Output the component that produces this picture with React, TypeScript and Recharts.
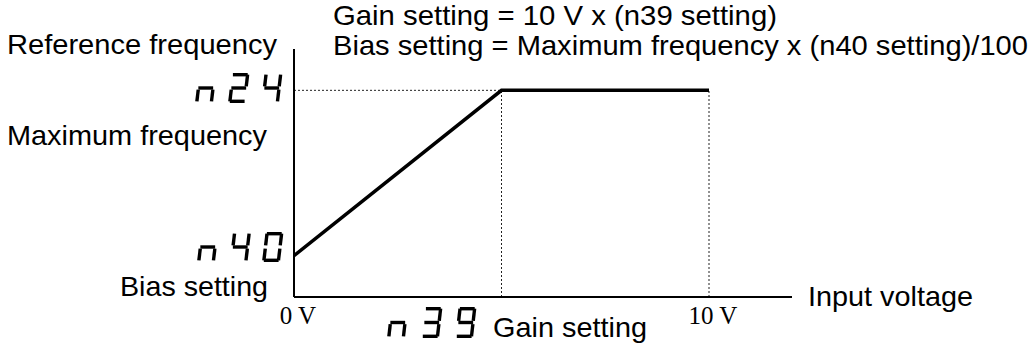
import React from 'react';
import { LineChart, Line, XAxis, YAxis, ReferenceLine, Customized } from 'recharts';

// ---- data ----
const inputVoltage = [0, 5, 10]; // V
const referenceFrequency = [20, 100, 100]; // % of maximum frequency
const xTicks = [0, 10];
const xTickLabels = ['0 V', '10 V'];
const gainVoltage = 5;
const maxFrequency = 100;
const fullScaleVoltage = 10;
const titleLines = [
  'Gain setting = 10 V x (n39 setting)',
  'Bias setting = Maximum frequency x (n40 setting)/100',
];
const yAxisTitle = 'Reference frequency';
const maxLabel = 'Maximum frequency';
const biasLabel = 'Bias setting';
const xAxisTitle = 'Input voltage';
const gainLabel = 'Gain setting';
const paramMax = 'n24';
const paramBias = 'n40';
const paramGain = 'n39';

const data = inputVoltage.map((v, i) => ({ v, f: referenceFrequency[i] }));

const SANS = '"Liberation Sans", Arial, sans-serif';
const SERIF = '"Liberation Serif", "Times New Roman", serif';

const SEGMENTS: Record<string, string> = {
  n: 'ceg',
  '0': 'abcdef',
  '2': 'abged',
  '3': 'abgcd',
  '4': 'fgbc',
  '9': 'abcdfg',
};

function SevenSeg({ x, y, text, pitch = 33, w = 18, h = 30, slant = 3.5, t = 3.4 }: any) {
  const gap = 1.6;
  const lines: any[] = [];
  text.split('').forEach((ch: string, ci: number) => {
    const x0 = x + ci * pitch;
    const P = (u: number, v: number) => [x0 + u + slant * (1 - v / h), y + v];
    const segs: Record<string, [number, number, number, number]> = {
      a: [gap, t / 2, w - gap, t / 2],
      d: [gap, h - t / 2, w - gap, h - t / 2],
      g: [gap, h / 2, w - gap, h / 2],
      f: [t / 2, gap, t / 2, h / 2 - gap],
      e: [t / 2, h / 2 + gap, t / 2, h - gap],
      b: [w - t / 2, gap, w - t / 2, h / 2 - gap],
      c: [w - t / 2, h / 2 + gap, w - t / 2, h - gap],
    };
    (SEGMENTS[ch] || '').split('').forEach((s) => {
      const [u1, v1, u2, v2] = segs[s];
      const [X1, Y1] = P(u1, v1);
      const [X2, Y2] = P(u2, v2);
      lines.push(
        <line key={ci + s} x1={X1} y1={Y1} x2={X2} y2={Y2} stroke="#000" strokeWidth={t} strokeLinecap="butt" />
      );
    });
  });
  return (
    <g aria-label={text}>
      <title>{text}</title>
      {lines}
    </g>
  );
}

const XTick = (props: any) => {
  const { x, payload, index } = props;
  return (
    <text x={x + 4} y={324} textAnchor="middle" fontFamily={SERIF} fontSize={25} fill="#000">
      {xTickLabels[index] ?? String(payload.value)}
    </text>
  );
};

const Labels = () => (
  <g fill="#000" fontFamily={SANS} fontSize={28}>
    <text x={333} y={25} textLength={444} lengthAdjust="spacingAndGlyphs">{titleLines[0]}</text>
    <text x={333} y={55} textLength={695} lengthAdjust="spacingAndGlyphs">{titleLines[1]}</text>
    <text x={7} y={54} textLength={270} lengthAdjust="spacingAndGlyphs">{yAxisTitle}</text>
    <text x={7} y={145} textLength={260} lengthAdjust="spacingAndGlyphs">{maxLabel}</text>
    <text x={120} y={296} textLength={148} lengthAdjust="spacingAndGlyphs">{biasLabel}</text>
    <text x={808} y={306} textLength={165} lengthAdjust="spacingAndGlyphs">{xAxisTitle}</text>
    <text x={493} y={337} textLength={154} lengthAdjust="spacingAndGlyphs">{gainLabel}</text>
    <SevenSeg x={195} y={73} text={paramMax} />
    <SevenSeg x={197} y={232} text={paramBias} pitch={32.5} />
    <SevenSeg x={387} y={307} text={paramGain} pitch={34} h={31} />
  </g>
);

export default function App() {
  return (
    <div style={{ position: 'absolute', left: 0, top: 0, width: 1033, height: 345, background: '#fff' }}>
      <LineChart
        width={1033}
        height={345}
        data={data}
        margin={{ top: 49, right: 241, bottom: 18, left: 264 }}
      >
        <XAxis
          dataKey="v"
          type="number"
          domain={[0, 12]}
          ticks={xTicks}
          interval={0}
          height={30}
          tickSize={0}
          tickLine={false}
          axisLine={{ stroke: '#000', strokeWidth: 2 }}
          tick={<XTick />}
          allowDataOverflow
        />
        <YAxis
          type="number"
          domain={[0, 120]}
          width={30}
          tick={false}
          tickLine={false}
          axisLine={{ stroke: '#000', strokeWidth: 2 }}
          allowDataOverflow
        />
        <ReferenceLine
          segment={[{ x: 0, y: maxFrequency }, { x: gainVoltage, y: maxFrequency }]}
          stroke="#222"
          strokeWidth={1}
          strokeDasharray="2 2"
          ifOverflow="visible"
        />
        <ReferenceLine
          segment={[{ x: gainVoltage, y: 0 }, { x: gainVoltage, y: maxFrequency }]}
          stroke="#222"
          strokeWidth={1}
          strokeDasharray="2 2"
          ifOverflow="visible"
        />
        <ReferenceLine
          segment={[{ x: fullScaleVoltage, y: 0 }, { x: fullScaleVoltage, y: maxFrequency }]}
          stroke="#222"
          strokeWidth={1}
          strokeDasharray="2 2"
          ifOverflow="visible"
        />
        <Line
          dataKey="f"
          type="linear"
          stroke="#000"
          strokeWidth={3.5}
          dot={false}
          activeDot={false}
          isAnimationActive={false}
        />
        <Customized component={Labels} />
      </LineChart>
    </div>
  );
}
